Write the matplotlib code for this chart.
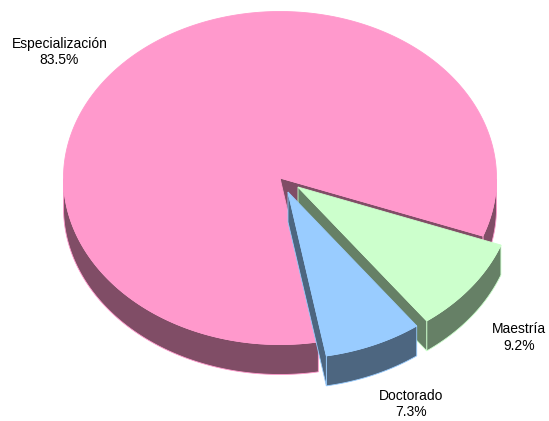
import numpy as np
import matplotlib
matplotlib.use('agg')
import matplotlib.pyplot as plt
from matplotlib.patches import Polygon

plt.rcParams['font.family'] = ['Liberation Sans', 'DejaVu Sans']

categories = ['Especialización', 'Maestría', 'Doctorado']
shares = [83.5, 9.2, 7.3]

top_colors = ['#FF99CC', '#CCFFCC', '#99CCFF']
side_colors = ['#804D66', '#668066', '#4D6680']
explode = [(0, 1), (18, 10), (8, 15)]
label_pos = [(59.5, 52), (519, 337.5), (411, 404)]

center = (280, 177)
rx, ry = 216.5, 166.5
depth = 30
start_angle = -20.4   # where Maestria begins, going clockwise


def ring(angles, cx, cy, drop=0):
    t = np.radians(angles)
    return np.column_stack([cx + rx * np.cos(t), cy - ry * np.sin(t) + drop])


def draw_slice(ax, a1, a2, dx, dy, top, side):
    cx, cy = center[0] + dx, center[1] + dy
    angles = np.linspace(a1, a2, 720)
    # outer wall, only the front part of the rim
    front = np.sin(np.radians(angles)) <= 0
    pieces = np.split(angles, np.where(np.diff(front.astype(int)) != 0)[0] + 1)
    for piece in pieces:
        if np.sin(np.radians(piece[len(piece) // 2])) <= 0:
            wall = np.vstack([ring(piece, cx, cy), ring(piece[::-1], cx, cy, depth)])
            ax.add_patch(Polygon(wall, closed=True, fc=side, ec=top, lw=0.6))
    # cut faces that look towards the viewer
    for a, visible in ((a1, np.cos(np.radians(a1)) < 0), (a2, np.cos(np.radians(a2)) > 0)):
        if visible:
            rim = ring([a], cx, cy)[0]
            face = [(cx, cy), rim, rim + (0, depth), (cx, cy + depth)]
            ax.add_patch(Polygon(face, closed=True, fc=side, ec=top, lw=0.6))
    # top of the slice
    cap = np.vstack([[(cx, cy)], ring(angles, cx, cy)])
    ax.add_patch(Polygon(cap, closed=True, fc=top, ec=top, lw=0.6))


fig = plt.figure(figsize=(5.49, 4.21), dpi=100)
ax = fig.add_axes([0, 0, 1, 1])
ax.set_xlim(0, 549)
ax.set_ylim(421, 0)
ax.axis('off')

# clockwise spans, in the order the picture has them
total = sum(shares)
m_end = start_angle - shares[1] / total * 360
d_end = m_end - shares[2] / total * 360
e_end = d_end - shares[0] / total * 360
spans = [(d_end, e_end), (start_angle, m_end), (m_end, d_end)]

for i in range(3):
    draw_slice(ax, spans[i][0], spans[i][1], explode[i][0], explode[i][1], top_colors[i], side_colors[i])

for name, val, pos in zip(categories, shares, label_pos):
    ax.text(pos[0], pos[1], '%s\n%.1f%%' % (name, val), ha='center', va='center',
            fontsize=10, color='black', linespacing=1.27)

fig.savefig('out.png', dpi=100)
